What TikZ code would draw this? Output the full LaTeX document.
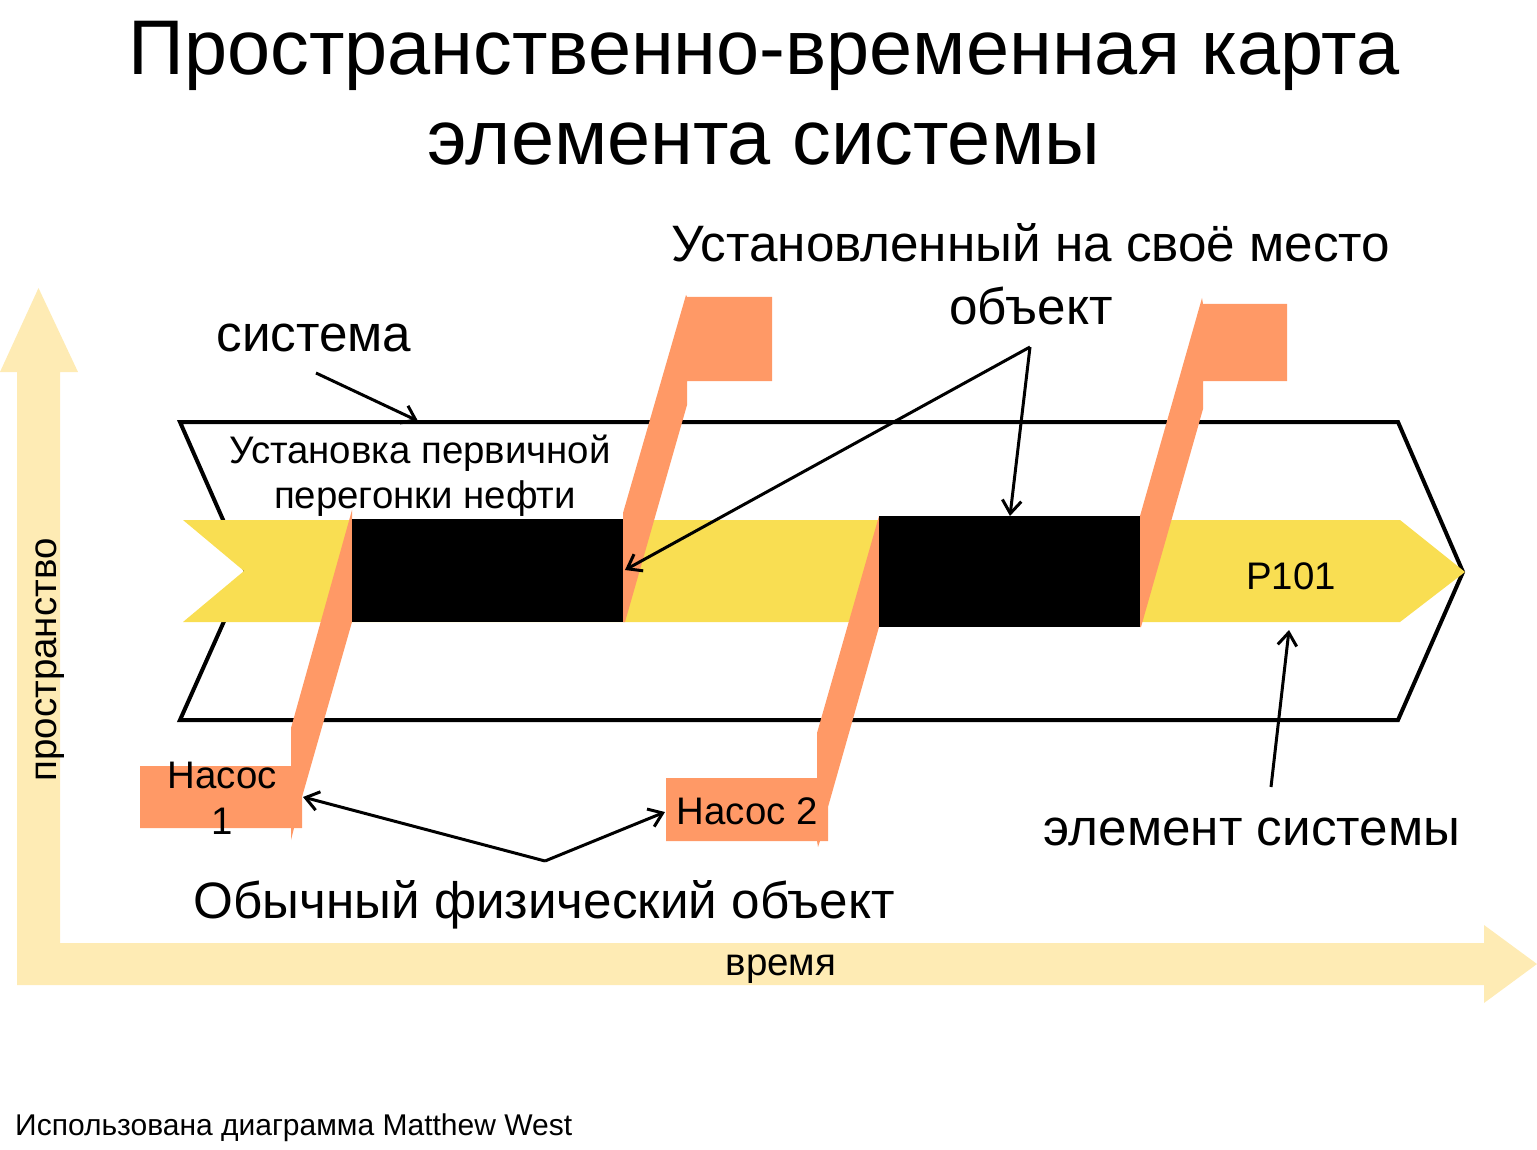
\documentclass[tikz,border=0pt]{standalone}
\usepackage{fontspec}
\setmainfont{Liberation Sans}
\usetikzlibrary{arrows.meta}
\definecolor{axisc}{RGB}{254,235,180}
\definecolor{bandc}{RGB}{249,222,82}
\definecolor{flagc}{RGB}{255,153,102}
\begin{document}
\begin{tikzpicture}[x=1pt,y=-1pt,
  txt/.style={inner sep=0pt, anchor=base},
  ttl/.style={txt, font=\fontsize{77.5}{90}\selectfont},
  big/.style={txt, font=\fontsize{51.2}{60}\selectfont},
  mid/.style={txt, font=\fontsize{38.4}{46}\selectfont},
  axl/.style={txt, font=\fontsize{38.5}{46}\selectfont},
  foot/.style={txt, anchor=base west, font=\fontsize{30}{36}\selectfont},
  ptr/.style={line width=3pt, -{Straight Barb[length=13pt,width=19pt]}},
  outline/.style={line width=4pt, miter limit=20},
  flag/.style={fill=flagc, draw=none},
  obj/.style={fill=black, draw=none}]
\useasboundingbox (0,0) rectangle (1537,1150);
% axes
\fill[axisc] (17,985) -- (17,372) -- (0,372) -- (38.5,288) -- (78,372) -- (60,372)
  -- (60,943) -- (1484,943) -- (1484,925) -- (1537,964) -- (1484,1003) -- (1484,985) -- cycle;
\node[axl, rotate=90, anchor=base] (space) at (56,660) {пространство};
\node[axl] (time) at (781,975) {время};
% system outline
\draw[outline] (180,422) -- (1398,422) -- (1463,572) -- (1398,720) -- (180,720) -- (246,572) -- cycle;
% system element band
\fill[bandc] (183,520) -- (1400,520) -- (1465,572) -- (1400,622) -- (183,622) -- (244,571) -- cycle;
% flags
\path[flag] (352,510) -- (352,622) -- (302,797) -- (302,828) -- (294,828) -- (291,840) -- (291,828)
  -- (140,828) -- (140,766) -- (291,766) -- (291,728) -- cycle;
\path[flag] (686,295) -- (687,297) -- (772,297) -- (772,381) -- (687,381) -- (687,405)
  -- (625,622) -- (623,622) -- (623,513) -- cycle;
\path[flag] (879,516) -- (879,627) -- (828,807) -- (828,841) -- (820,841) -- (818,847) -- (817,841)
  -- (666,841) -- (666,778) -- (817,778) -- (817,733) -- cycle;
\path[flag] (1202,298) -- (1203,304) -- (1287,304) -- (1287,381) -- (1203,381) -- (1203,409)
  -- (1141,627) -- (1140,627) -- (1140,516) -- cycle;
% installed objects
\path[obj] (352,519) rectangle (623,622);
\path[obj] (879,516) rectangle (1140,627);
% texts
\node[ttl] (t1) at (764,75) {Пространственно-временная карта};
\node[ttl] (t2) at (764,165) {элемента системы};
\node[big] (inst1) at (1031,262) {Установленный на своё место};
\node[big] (inst2) at (1031,325) {объект};
\node[big] (sys) at (314,352) {система};
\node[mid] (plant1) at (420,463) {Установка первичной};
\node[mid] (plant2) at (425,508) {перегонки нефти};
\node[mid] (p101) at (1291,589) {P101};
\node[mid] (pump1a) at (222,788) {Насос};
\node[mid] (pump1b) at (222,834) {1};
\node[mid] (pump2) at (747,824) {Насос 2};
\node[big] (elem) at (1252,845) {элемент системы};
\node[big] (phys) at (544,918) {Обычный физический объект};
\node[foot] (credit) at (15,1135) {Использована диаграмма Matthew West};
% pointer coordinates
\coordinate (sysA) at (316,373);
\coordinate (sysB) at (418,421);
\coordinate (objA) at (1030,347);
\coordinate (objB1) at (625,570);
\coordinate (objB2) at (1010,516);
\coordinate (elA) at (1271,787);
\coordinate (elB) at (1289,630);
\coordinate (phA) at (545,861);
\coordinate (phB1) at (303,797);
\coordinate (phB2) at (665,812);
\draw[ptr] (sysA) -- (sysB);
\draw[ptr] (objA) -- (objB1);
\draw[ptr] (objA) -- (objB2);
\draw[ptr] (elA) -- (elB);
\draw[ptr] (phA) -- (phB1);
\draw[ptr] (phA) -- (phB2);
\end{tikzpicture}
\end{document}
